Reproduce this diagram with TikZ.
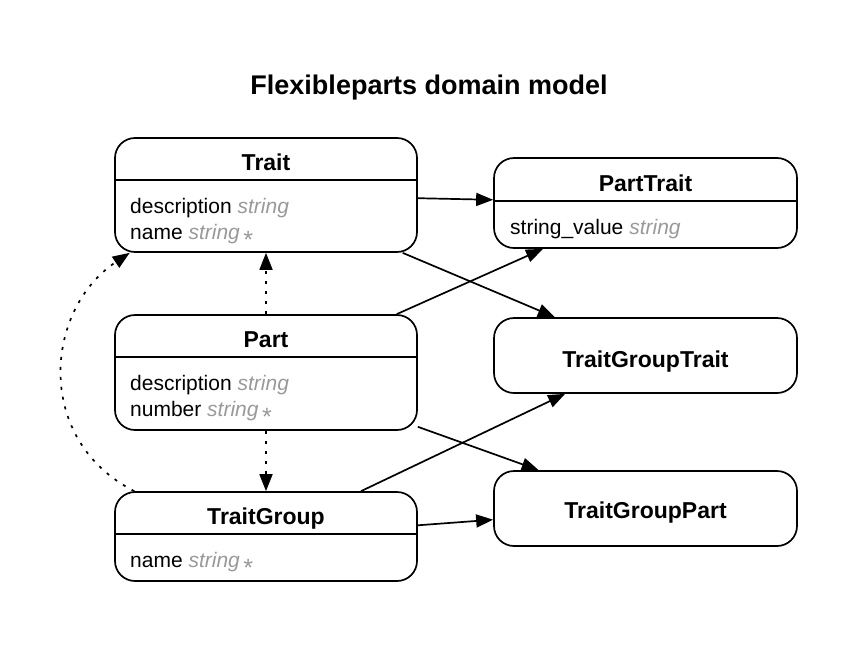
\documentclass[tikz,border=0pt]{standalone}
\usepackage{fontspec}
\setmainfont{Liberation Sans}
\usetikzlibrary{arrows.meta}
\definecolor{typegray}{HTML}{999999}
\newcommand{\ty}[1]{{\color{typegray}\itshape #1}}
\newcommand{\req}{\,{\color{typegray}\raisebox{-9pt}{\fontsize{25}{25}\selectfont *}}}
\begin{document}
\begin{tikzpicture}[x=1pt,y=-1pt,
  entity/.style={draw,line width=1.7pt,rounded corners=20pt,minimum width=302pt,inner sep=0pt},
  sep/.style={line width=1.7pt},
  hdr/.style={font=\fontsize{23}{23}\selectfont\bfseries,anchor=base,inner sep=0pt},
  attr/.style={font=\fontsize{21}{21}\selectfont,anchor=base west,inner sep=0pt},
  rel/.style={line width=1.7pt,-{Triangle[length=17pt,width=13pt]}},
  dep/.style={rel,dash pattern=on 3pt off 7pt}]
\useasboundingbox (0,0) rectangle (858,645);
\node[font=\fontsize{27}{27}\selectfont\bfseries,anchor=base] (title) at (429,94) {Flexibleparts domain model};
% boxes
\node[entity,minimum height=114pt] (trait) at (266,195) {};
\node[entity,minimum width=303pt,minimum height=90pt] (parttrait) at (645.5,203) {};
\node[entity,minimum height=115pt] (part) at (266,372.5) {};
\node[entity,minimum width=303pt,minimum height=75pt] (tgt) at (645.5,355.5) {};
\node[entity,minimum height=89pt] (tg) at (266,536.5) {};
\node[entity,minimum width=303pt,minimum height=75pt] (tgp) at (645.5,508.5) {};
% header separators
\draw[sep] (trait.west |- 0,180) -- (trait.east |- 0,180);
\draw[sep] (parttrait.west |- 0,201) -- (parttrait.east |- 0,201);
\draw[sep] (part.west |- 0,357) -- (part.east |- 0,357);
\draw[sep] (tg.west |- 0,534) -- (tg.east |- 0,534);
% headers
\node[hdr] (traith) at (266,170) {Trait};
\node[hdr] (parttraith) at (645.5,191) {PartTrait};
\node[hdr] (parth) at (266,347) {Part};
\node[hdr] (tgh) at (266,524) {TraitGroup};
\node[hdr] (tgtl) at (645.5,367) {TraitGroupTrait};
\node[hdr] (tgpl) at (645.5,518) {TraitGroupPart};
% attributes
\node[attr] (ta1) at (130,213) {description \ty{string}};
\node[attr] (ta2) at (130,239) {name \ty{string}\req};
\node[attr] (pta1) at (510,234) {string\_value \ty{string}};
\node[attr] (pa1) at (130,390) {description \ty{string}};
\node[attr] (pa2) at (130,416) {number \ty{string}\req};
\node[attr] (tga1) at (130,567) {name \ty{string}\req};
% relations
\draw[rel] (trait) -- (parttrait);
\draw[rel] (trait) -- (tgt);
\draw[rel] (part) -- (parttrait);
\draw[rel] (part) -- (tgp);
\draw[rel] (tg) -- (tgt);
\draw[rel] (tg) -- (tgp);
\draw[dep] (part) -- (trait);
\draw[dep] (part) -- (tg);
\draw[dep] (tg.161.4) .. controls (34,440) and (44,310) .. (trait.203);
\end{tikzpicture}
\end{document}
